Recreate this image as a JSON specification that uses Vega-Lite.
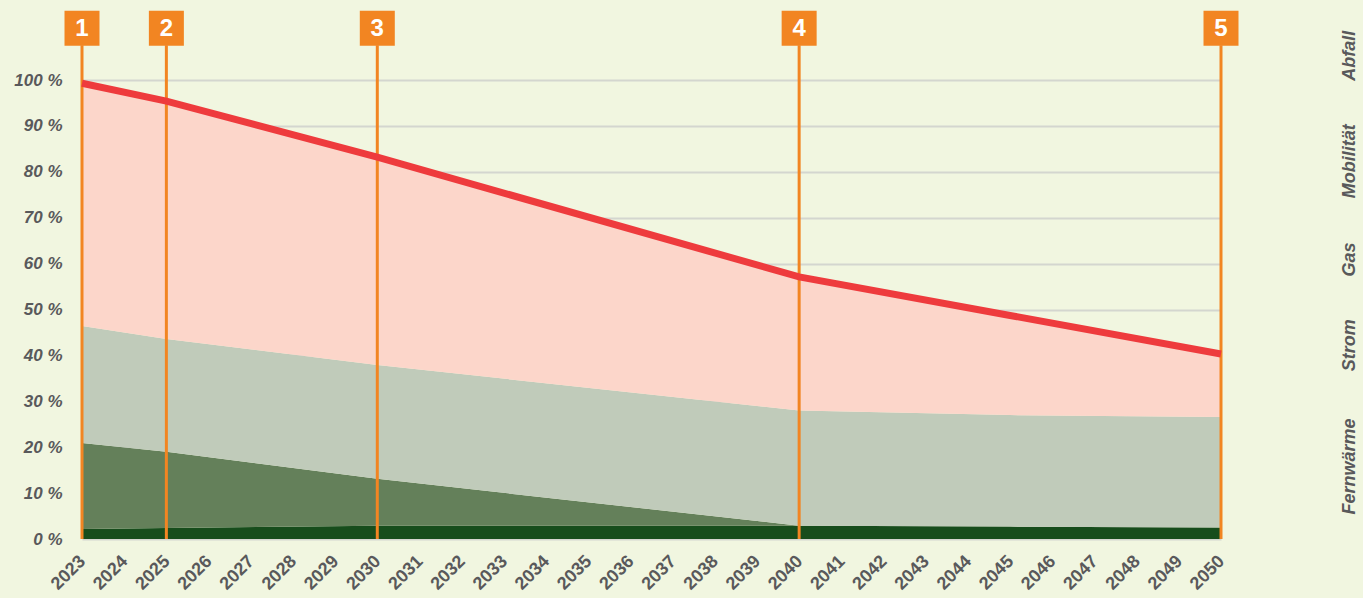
{
  "$schema": "https://vega.github.io/schema/vega-lite/v6.json",
  "width": 1139,
  "height": 537,
  "autosize": {"type": "none"},
  "padding": {"left": 82, "top": 2, "right": 142, "bottom": 59},
  "background": "#f1f6e0",
  "config": {
    "view": {"stroke": null},
    "font": "Liberation Sans",
    "axisX": {"labelOverlap": false, "labelFlush": false}
  },
  "datasets": {
    "parts": [
      {"year": 2023, "cat": "Fernwärme", "k": 1, "value": 2.2},
      {"year": 2023, "cat": "Strom", "k": 2, "value": 18.7},
      {"year": 2023, "cat": "Gas", "k": 3, "value": 25.5},
      {"year": 2023, "cat": "Mobilität", "k": 4, "value": 52.9},
      {"year": 2025, "cat": "Fernwärme", "k": 1, "value": 2.4},
      {"year": 2025, "cat": "Strom", "k": 2, "value": 16.6},
      {"year": 2025, "cat": "Gas", "k": 3, "value": 24.6},
      {"year": 2025, "cat": "Mobilität", "k": 4, "value": 51.8},
      {"year": 2030, "cat": "Fernwärme", "k": 1, "value": 2.9},
      {"year": 2030, "cat": "Strom", "k": 2, "value": 10.2},
      {"year": 2030, "cat": "Gas", "k": 3, "value": 24.8},
      {"year": 2030, "cat": "Mobilität", "k": 4, "value": 45.3},
      {"year": 2040, "cat": "Fernwärme", "k": 1, "value": 2.9},
      {"year": 2040, "cat": "Strom", "k": 2, "value": 0},
      {"year": 2040, "cat": "Gas", "k": 3, "value": 25.1},
      {"year": 2040, "cat": "Mobilität", "k": 4, "value": 29.1},
      {"year": 2045, "cat": "Fernwärme", "k": 1, "value": 2.7},
      {"year": 2045, "cat": "Strom", "k": 2, "value": 0},
      {"year": 2045, "cat": "Gas", "k": 3, "value": 24.3},
      {"year": 2045, "cat": "Mobilität", "k": 4, "value": 21.7},
      {"year": 2050, "cat": "Fernwärme", "k": 1, "value": 2.5},
      {"year": 2050, "cat": "Strom", "k": 2, "value": 0},
      {"year": 2050, "cat": "Gas", "k": 3, "value": 24.1},
      {"year": 2050, "cat": "Mobilität", "k": 4, "value": 13.7}
    ],
    "milestones": [
      {"year": 2023, "n": "1"},
      {"year": 2025, "n": "2"},
      {"year": 2030, "n": "3"},
      {"year": 2040, "n": "4"},
      {"year": 2050, "n": "5"}
    ]
  },
  "layer": [
    {
      "layer": [
        {
          "data": {"name": "parts"},
          "mark": {"type": "area", "interpolate": "linear"},
          "encoding": {
            "x": {
              "field": "year", "type": "quantitative",
              "scale": {"domain": [2023, 2050], "nice": false, "zero": false},
              "axis": {
                "title": null, "values": [2023,2024,2025,2026,2027,2028,2029,2030,2031,2032,2033,2034,2035,2036,2037,2038,2039,2040,2041,2042,2043,2044,2045,2046,2047,2048,2049,2050],
                "format": "d", "labelAngle": -45, "labelFontSize": 18, "labelFontWeight": "bold",
                "labelColor": "#59595b", "labelFlush": false, "labelOverlap": false,
                "domain": false, "ticks": false, "grid": false, "labelPadding": 13, "labelOffset": -6
              }
            },
            "y": {
              "field": "value", "type": "quantitative", "stack": "zero",
              "scale": {"domain": [0, 117], "nice": false},
              "axis": {
                "title": null, "values": [0,10,20,30,40,50,60,70,80,90,100],
                "labelExpr": "datum.value + ' %'", "labelFontSize": 17, "labelFontWeight": "bold",
                "labelFontStyle": "italic", "labelColor": "#59595b", "labelPadding": 20,
                "domain": false, "ticks": false, "grid": true, "gridColor": "#d4d6cf", "gridWidth": 2,
                "labelFlush": false
              }
            },
            "color": {
              "field": "cat", "type": "nominal",
              "scale": {"domain": ["Fernwärme", "Strom", "Gas", "Mobilität"], "range": ["#174d1c", "#64805a", "#c0cbba", "#fcd6ca"]},
              "legend": null
            },
            "order": {"field": "k", "type": "quantitative"}
          }
        },
        {
          "data": {"name": "milestones"},
          "mark": {"type": "rule", "color": "#f28522", "strokeWidth": 3},
          "encoding": {
            "x": {"field": "year", "type": "quantitative"},
            "y": {"datum": 0},
            "y2": {"datum": 107.6}
          }
        },
        {
          "data": {"name": "milestones"},
          "mark": {"type": "point", "shape": "square", "size": 1225, "filled": true, "color": "#f28522", "opacity": 1},
          "encoding": {
            "x": {"field": "year", "type": "quantitative"},
            "y": {"datum": 111.3}
          }
        },
        {
          "data": {"name": "milestones"},
          "mark": {"type": "text", "color": "white", "fontSize": 24, "fontWeight": "bold", "baseline": "middle", "align": "center", "dy": 1},
          "encoding": {
            "x": {"field": "year", "type": "quantitative"},
            "y": {"datum": 111.3},
            "text": {"field": "n"}
          }
        }
      ]
    },
    {
      "data": {"name": "parts"},
      "transform": [{"aggregate": [{"op": "sum", "field": "value", "as": "total"}], "groupby": ["year"]}],
      "mark": {"type": "line", "color": "#ee3b3d", "strokeWidth": 7, "strokeCap": "butt"},
      "encoding": {
        "x": {"field": "year", "type": "quantitative"},
        "y": {
          "field": "total", "type": "quantitative",
          "scale": {"domain": [0, 117], "nice": false},
          "axis": {
            "orient": "right", "title": null, "values": [15.9, 42.3, 61.0, 82.4, 105.4],
            "labelExpr": "datum.value < 30 ? 'Fernwärme' : datum.value < 50 ? 'Strom' : datum.value < 70 ? 'Gas' : datum.value < 90 ? 'Mobilität' : 'Abfall'",
            "labelAngle": -90, "labelAlign": "center", "labelBaseline": "top",
            "labelPadding": 119, "labelFontSize": 18, "labelFontWeight": "bold", "labelFontStyle": "italic",
            "labelColor": "#59595b", "labelOverlap": false, "labelFlush": false,
            "domain": false, "ticks": false, "grid": false
          }
        }
      }
    }
  ],
  "resolve": {"scale": {"y": "independent"}}
}
